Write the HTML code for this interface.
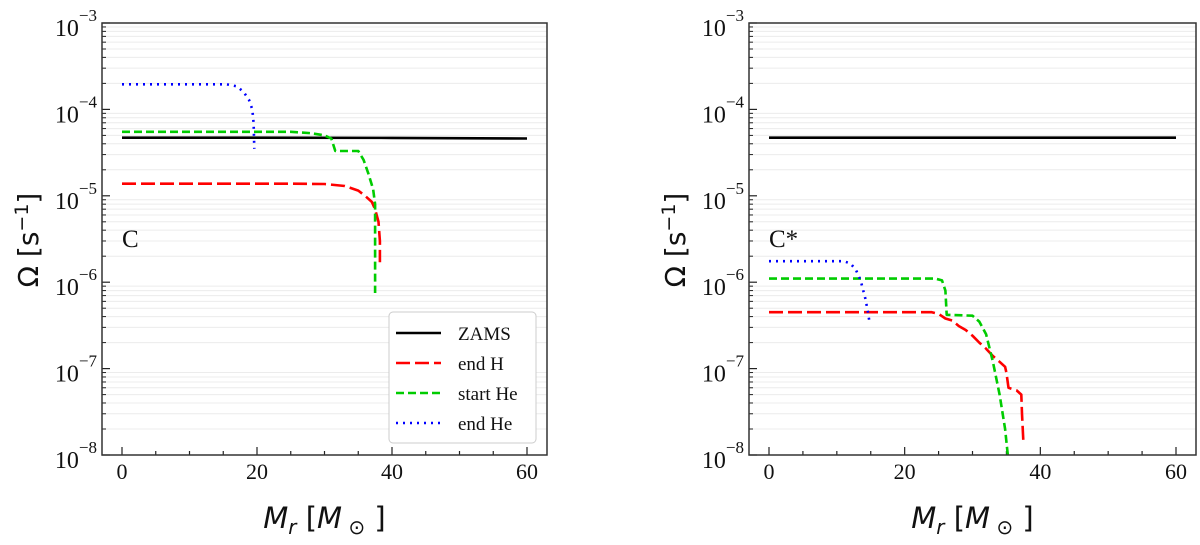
<!DOCTYPE html>
<html><head><meta charset="utf-8"><style>
html,body{margin:0;padding:0;background:#fff;}
svg{display:block;}
.tk{font-family:"Liberation Serif",serif;fill:#111;}
.ax{font-family:"DejaVu Sans","Liberation Sans",sans-serif;fill:#111;}
</style></head><body>
<svg id="chart" width="1200" height="545" viewBox="0 0 1200 545" xmlns="http://www.w3.org/2000/svg"></svg>
<script>
const xTicks=[0,20,40,60];
const yExps=[-3,-4,-5,-6,-7,-8];
const seriesNames=["ZAMS","end H","start He","end He"];
// Left panel (C)
const cZamsX=[0,20,40,60];
const cZamsY=[4.7e-5,4.7e-5,4.68e-5,4.6e-5];
const cEndHX=[0,25,30,33,35,36,37,37.5,38,38.2,38.2];
const cEndHY=[1.38e-5,1.38e-5,1.37e-5,1.3e-5,1.15e-5,1.0e-5,8.5e-6,7e-6,5e-6,3e-6,1.7e-6];
const cStartHeX=[0,25,28,30,31,31.6,35,35.8,36.5,37.2,37.5,37.5];
const cStartHeY=[5.5e-5,5.5e-5,5.3e-5,5e-5,4.6e-5,3.3e-5,3.3e-5,2.6e-5,1.8e-5,1.2e-5,8e-6,7.5e-7];
const cEndHeX=[0,15.5,17,18,18.8,19.3,19.5,19.6];
const cEndHeY=[1.95e-4,1.95e-4,1.85e-4,1.6e-4,1.3e-4,1e-4,7e-5,3.5e-5];
// Right panel (C*)
const sZamsX=[0,60];
const sZamsY=[4.7e-5,4.7e-5];
const sEndHX=[0,24,25,26,27,28,29,30,31,32,33,34,34.8,35,35.3,36.5,37.2,37.3,37.5];
const sEndHY=[4.5e-7,4.5e-7,4.3e-7,3.8e-7,3.6e-7,3.1e-7,2.8e-7,2.4e-7,2.0e-7,1.7e-7,1.4e-7,1.2e-7,1.05e-7,9e-8,6e-8,5.6e-8,5e-8,3e-8,1.4e-8];
const sStartHeX=[0,24.5,25.5,26,26.2,30,31,32,33,34,34.8,35.2];
const sStartHeY=[1.1e-6,1.1e-6,1.05e-6,8e-7,4.2e-7,4.1e-7,3.5e-7,2.5e-7,1.2e-7,5e-8,2e-8,1e-8];
const sEndHeX=[0,11,12,12.8,13.5,14.2,14.6,14.8];
const sEndHeY=[1.75e-6,1.75e-6,1.65e-6,1.4e-6,1.05e-6,6.5e-7,4.5e-7,3.5e-7];

const NS="http://www.w3.org/2000/svg";
const svg=document.getElementById('chart');
function mk(tag,attrs,parent){const e=document.createElementNS(NS,tag);for(const k in attrs)e.setAttribute(k,attrs[k]);(parent||svg).appendChild(e);return e;}
const styles=[
 {stroke:"#000",dash:"none",w:2.6,cap:"butt"},
 {stroke:"#ff0000",dash:"14 5",w:2.6,cap:"butt"},
 {stroke:"#00cc00",dash:"8 4",w:2.6,cap:"butt"},
 {stroke:"#0000ff",dash:"2 5",w:2.6,cap:"butt"}
];
const TOP=23,BOT=455;
function yScale(v){return TOP+(-3-Math.log10(v))*(BOT-TOP)/5;}

function panel(id,L,R,x0,x60,label,data,legend){
 const g=mk('g',{});
 
 
 const xs=v=>x0+(x60-x0)*v/60;
 // grid
 for(let e=-8;e<-3;e++){for(let m=2;m<=9;m++){const y=yScale(m*Math.pow(10,e));
  const gl=mk('line',{x1:L,x2:R,y1:y,y2:y,stroke:"#ececec","stroke-width":1},g);
  
  const mt=mk('line',{x1:L,x2:L+4,y1:y,y2:y,stroke:"#222","stroke-width":1},g);
  }}
 // y ticks & labels
 yExps.forEach(e=>{const y=yScale(Math.pow(10,e));
  const t=mk('line',{x1:L,x2:L+8,y1:y,y2:y,stroke:"#222","stroke-width":1.2},g);
  
  const tx=mk('text',{x:L-5,y:y+13,"text-anchor":"end","class":"tk","font-size":24},g);
  
  const a=mk('tspan',{},tx);a.textContent="10";
  const b=mk('tspan',{dy:-15,"font-size":17},tx);b.textContent="\u2212"+(-e);
 });
 // x ticks
 for(let v=0;v<=60;v+=5){const x=xs(v);const maj=v%20===0;
  const t=mk('line',{x1:x,x2:x,y1:BOT,y2:BOT-(maj?8:4),stroke:"#222","stroke-width":1.2},g);
  }
 xTicks.forEach(v=>{const tx=mk('text',{x:xs(v),y:BOT+24,"text-anchor":"middle","class":"tk","font-size":22},g);
  tx.textContent=v;});
 // series
 data.forEach((d,i)=>{const s=styles[i];
  const pts=d[0].map((x,j)=>xs(x).toFixed(1)+","+yScale(d[1][j]).toFixed(1)).join(" ");
  const p=mk('polyline',{points:pts,fill:"none",stroke:s.stroke,"stroke-width":s.w,"stroke-dasharray":s.dash,"stroke-linecap":s.cap,"stroke-linejoin":"round"},g);
  
  });
 // frame
 const fr=mk('rect',{x:L,y:TOP,width:R-L,height:BOT-TOP,fill:"none",stroke:"#333","stroke-width":1.5},g);
 
 // panel label
 const pl=mk('text',{x:x0,y:247,"class":"tk","font-size":25},g);
 pl.textContent=label;
 // axis titles
 const cy=(L-76);
 const yt=mk('text',{x:0,y:0,"class":"ax","font-size":28,"text-anchor":"middle",transform:`translate(${cy+12},240) rotate(-90)`},g);
 
 const y1=mk('tspan',{},yt);y1.textContent="\u03A9 [s";
 const y2=mk('tspan',{dy:-10,"font-size":19},yt);y2.textContent="\u22121";
 const y3=mk('tspan',{dy:10},yt);y3.textContent="]";
 const xt=mk('text',{x:(L+R)/2+0,y:528,"class":"ax","font-size":29,"text-anchor":"middle"},g);
 
 const a1=mk('tspan',{"font-style":"italic"},xt);a1.textContent="M";
 const a2=mk('tspan',{"font-style":"italic","font-size":20,dy:6},xt);a2.textContent="r";
 const a3=mk('tspan',{dy:-6},xt);a3.textContent=" [";
 const a4=mk('tspan',{"font-style":"italic"},xt);a4.textContent="M";
 const a5=mk('tspan',{"font-size":20,dy:6},xt);a5.textContent=" \u2299";
 const a6=mk('tspan',{dy:-6},xt);a6.textContent=" ]";
 if(legend){
  const lg=mk('g',{},g);
  mk('rect',{x:389,y:312,width:147,height:131,rx:4,fill:"#fff",stroke:"#ccc","stroke-width":1},lg);
  seriesNames.forEach((n,i)=>{const y=333+i*30;const s=styles[i];
   const e=mk('g',{},lg);
   mk('line',{x1:396,x2:441,y1:y,y2:y,stroke:s.stroke,"stroke-width":2.6,"stroke-dasharray":s.dash},e);
   const t=mk('text',{x:458,y:y+7,"class":"tk","font-size":19},e);t.textContent=n;});
 }
}
panel('panel-c',102,547,122,527,"C",[[cZamsX,cZamsY],[cEndHX,cEndHY],[cStartHeX,cStartHeY],[cEndHeX,cEndHeY]],true);
panel('panel-c-star',749,1196,769,1176,"C*",[[sZamsX,sZamsY],[sEndHX,sEndHY],[sStartHeX,sStartHeY],[sEndHeX,sEndHeY]],false);
</script>
</body></html>
